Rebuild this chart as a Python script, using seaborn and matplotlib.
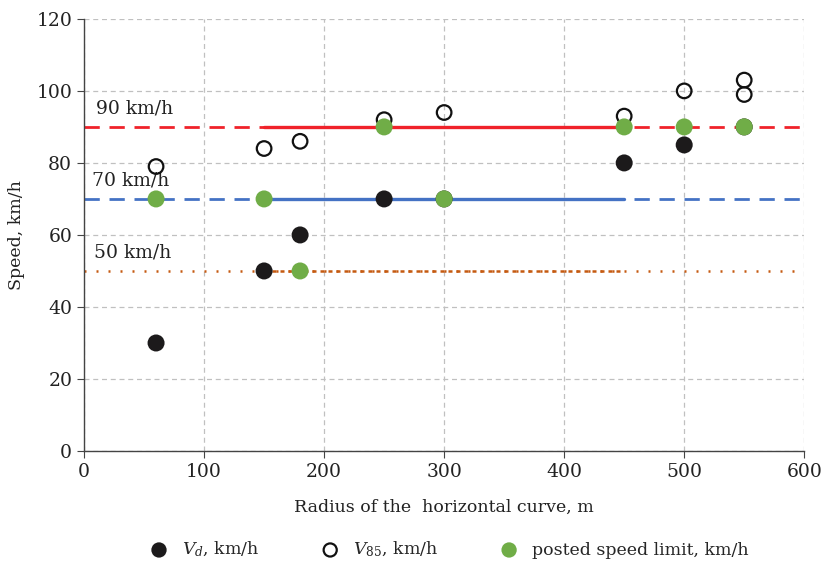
import matplotlib
matplotlib.use("Agg")
import matplotlib.pyplot as plt
import seaborn as sns
import pandas as pd

# design speed Vd
vd_radius = [60, 150, 180, 250, 300, 450, 500, 550]
vd_speed = [30, 50, 60, 70, 70, 80, 85, 90]

# operating speed V85
v85_radius = [60, 150, 180, 250, 300, 450, 500, 550, 550]
v85_speed = [79, 84, 86, 92, 94, 93, 100, 99, 103]

# posted speed limit
limit_radius = [60, 150, 180, 250, 300, 450, 500, 550]
limit_speed = [70, 70, 50, 90, 70, 90, 90, 90]

# reference lines
ref_levels = [90, 70, 50]
ref_labels = ["90 km/h", "70 km/h", "50 km/h"]
ref_colors = ["#F0222A", "#4472C4", "#C55A11"]
ref_label_pos = [(10, 92.5), (7, 72.5), (8.5, 52.5)]
full_span = [0, 600]
solid_span = [150, 450]

sns.set_style("white")
plt.rcParams["font.family"] = ["DejaVu Serif"]
plt.rcParams["mathtext.fontset"] = "dejavuserif"

fig = plt.figure(figsize=(8.24, 5.72), dpi=100)
ax = fig.add_axes([0.102, 0.2115, 0.874, 0.7555])

# dashed / dotted full-width lines + solid segments
for lvl, col in zip(ref_levels[:2], ref_colors[:2]):
    ax.plot(full_span, [lvl, lvl], color=col, lw=2, dashes=(5.5, 3.5), zorder=2)
    ax.plot(solid_span, [lvl, lvl], color=col, lw=2.4, zorder=2)
ax.plot(full_span, [ref_levels[2]] * 2, color=ref_colors[2], lw=1.8,
        dashes=(0.8, 4.0), zorder=2)
ax.plot(solid_span, [ref_levels[2]] * 2, color=ref_colors[2], lw=1.8,
        dashes=(1.6, 1.6), zorder=2)

for lab, (tx, ty) in zip(ref_labels, ref_label_pos):
    ax.text(tx, ty, lab, fontsize=13.5, color="#222222", va="bottom", ha="left")

df_vd = pd.DataFrame({"r": vd_radius, "v": vd_speed})
df_v85 = pd.DataFrame({"r": v85_radius, "v": v85_speed})
df_lim = pd.DataFrame({"r": limit_radius, "v": limit_speed})

sns.scatterplot(data=df_v85, x="r", y="v", ax=ax, s=110, facecolors="none",
                edgecolor="#111111", linewidth=1.6, zorder=3,
                label=r"$V_{85}$, km/h")
sns.scatterplot(data=df_vd, x="r", y="v", ax=ax, s=150, color="#1c1a1b",
                edgecolor="none", zorder=4, label=r"$V_d$, km/h")
sns.scatterplot(data=df_lim, x="r", y="v", ax=ax, s=150, color="#70AD47",
                edgecolor="none", zorder=5, label="posted speed limit, km/h")

ax.set_xlim(0, 600)
ax.set_ylim(0, 120)
ax.set_xticks(range(0, 601, 100))
ax.set_yticks(range(0, 121, 20))
ax.grid(True, color="#c0c0c0", linestyle=(0, (4, 3)), linewidth=0.9)
ax.set_axisbelow(True)
for side in ["top", "right"]:
    ax.spines[side].set_visible(False)
for side in ["left", "bottom"]:
    ax.spines[side].set_color("#444444")
    ax.spines[side].set_linewidth(1.0)
ax.tick_params(axis="both", labelsize=13.5, length=5, color="#444444",
               direction="out", left=True, bottom=True, colors="#222222")
ax.set_xlabel("Radius of the  horizontal curve, m", fontsize=12.5,
              color="#222222", labelpad=13)
ax.set_ylabel("Speed, km/h", fontsize=12.5, color="#222222", labelpad=8)

handles, labels = ax.get_legend_handles_labels()
order = [1, 0, 2]
ax.get_legend().remove()
fig.legend([handles[i] for i in order], [labels[i] for i in order],
           loc="lower center", bbox_to_anchor=(0.54, -0.005), ncol=3,
           frameon=False, fontsize=12.5, columnspacing=3.1, handletextpad=0.3,
           markerscale=0.9)

fig.savefig("out.png", dpi=100)
